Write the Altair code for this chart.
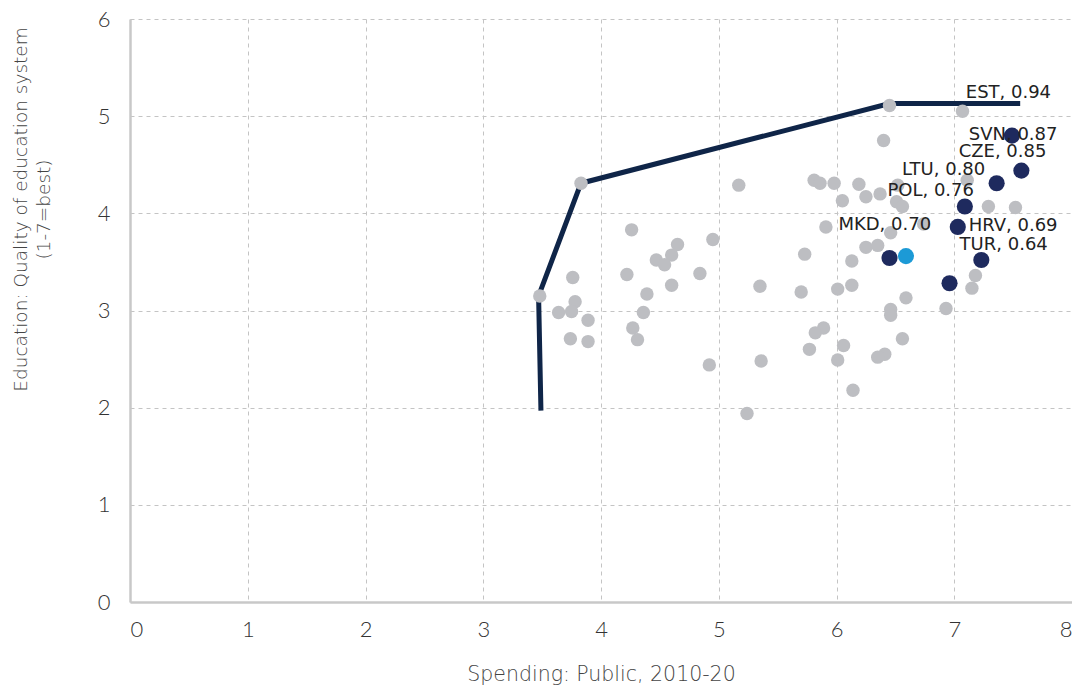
import altair as alt
import pandas as pd

# Gray comparator points (spending, quality)
gray_x = [3.48, 3.83, 6.45, 4.26, 4.65, 4.60, 4.47, 4.54, 4.95, 4.22, 4.84, 3.76, 4.60, 4.39,
          3.78, 3.64, 3.75, 4.36, 3.89, 4.27, 3.74, 3.89, 4.31, 4.92, 5.17, 5.81, 5.86, 5.98,
          6.19, 6.05, 6.25, 6.37, 6.52, 6.51, 6.56, 5.91, 6.46, 6.25, 6.35, 5.73, 6.13, 5.35,
          5.70, 6.01, 6.13, 6.59, 6.46, 6.46, 5.89, 5.82, 6.06, 5.77, 6.56, 6.41, 6.35, 6.01,
          5.36, 6.14, 5.24, 7.07, 6.40, 7.11, 7.29, 7.52, 6.74, 7.18, 7.15, 6.93]
gray_y = [3.15, 4.31, 5.11, 3.83, 3.68, 3.57, 3.52, 3.47, 3.73, 3.37, 3.38, 3.34, 3.26, 3.17,
          3.09, 2.98, 2.99, 2.98, 2.90, 2.82, 2.71, 2.68, 2.70, 2.44, 4.29, 4.34, 4.31, 4.31,
          4.30, 4.13, 4.17, 4.20, 4.29, 4.12, 4.07, 3.86, 3.80, 3.65, 3.67, 3.58, 3.51, 3.25,
          3.19, 3.22, 3.26, 3.13, 3.01, 2.95, 2.82, 2.77, 2.64, 2.60, 2.71, 2.55, 2.52, 2.49,
          2.48, 2.18, 1.94, 5.05, 4.75, 4.34, 4.07, 4.06, 3.89, 3.36, 3.23, 3.02]

# Highlighted peer countries (dark)
peer_x = [7.49, 7.57, 7.36, 7.09, 7.03, 7.23, 6.45, 6.96]
peer_y = [4.80, 4.44, 4.31, 4.07, 3.86, 3.52, 3.54, 3.28]

# Focus country (light blue)
focus_x = [6.59]
focus_y = [3.56]

# Efficiency frontier
front_x = [3.49, 3.47, 3.83, 6.45, 7.56]
front_y = [1.97, 3.15, 4.31, 5.13, 5.13]

# Labels (text, anchor in data units)
lab_text = ["EST, 0.94", "SVN, 0.87", "CZE, 0.85", "LTU, 0.80", "POL, 0.76",
            "MKD, 0.70", "HRV, 0.69", "TUR, 0.64"]
lab_x = [7.46, 7.50, 7.41, 6.91, 6.80, 6.41, 7.50, 7.42]
lab_y = [5.24, 4.81, 4.63, 4.45, 4.23, 3.88, 3.87, 3.67]

gray_df = pd.DataFrame({"x": gray_x, "y": gray_y})
peer_df = pd.DataFrame({"x": peer_x, "y": peer_y})
focus_df = pd.DataFrame({"x": focus_x, "y": focus_y})
front_df = pd.DataFrame({"x": front_x, "y": front_y, "o": list(range(len(front_x)))})
lab_df = pd.DataFrame({"x": lab_x, "y": lab_y, "t": lab_text})

xs = alt.Scale(domain=[0, 8], nice=False, zero=True)
ys = alt.Scale(domain=[0, 6], nice=False, zero=True)

xenc = alt.X("x:Q", scale=xs, axis=alt.Axis(
    title="Spending: Public, 2010-20", values=list(range(0, 9)), format="d",
    titlePadding=24))
yenc = alt.Y("y:Q", scale=ys, axis=alt.Axis(
    title=["Education: Quality of education system", "(1-7=best)"],
    values=list(range(0, 7)), format="d", titleLineHeight=23,
    titleAngle=-90, titleX=-119, titleY=190, titleAlign="center", titleBaseline="top"))

line = alt.Chart(front_df).mark_line(color="#0f2548", strokeWidth=5, strokeCap="butt",
                                     strokeJoin="miter").encode(x=xenc, y=yenc, order="o:Q")
gray = alt.Chart(gray_df).mark_circle(color="#bdbec2", opacity=1, size=180).encode(
    x="x:Q", y="y:Q")
peers = alt.Chart(peer_df).mark_circle(color="#1e2a5e", opacity=1, size=260).encode(
    x="x:Q", y="y:Q")
focus = alt.Chart(focus_df).mark_circle(color="#1c9ad6", opacity=1, size=260).encode(
    x="x:Q", y="y:Q")
labels = alt.Chart(lab_df).mark_text(font="DejaVu Sans", fontSize=18,
                                     color="#222222", align="center", baseline="middle").encode(
    x="x:Q", y="y:Q", text="t:N")

chart = alt.layer(line, gray, peers, focus, labels).properties(
    width=942, height=583,
    autosize=alt.AutoSizeParams(type="none"),
    padding={"left": 122, "top": 11, "right": 0, "bottom": 84},
).configure_view(stroke=None).configure_axis(
    domainColor="#c8c8c8", domainWidth=2.5, ticks=False,
    gridColor="#c4c4c4", gridDash=[4, 4], gridWidth=1,
    labelFont="Lato", labelFontWeight=300, labelFontSize=22, labelColor="#333333",
    titleFont="DejaVu Sans", titleFontWeight=200, titleColor="#444444",
).configure_axisX(labelPadding=17, titleFontSize=20.5).configure_axisY(
    labelPadding=20, titleFontSize=18.5)

chart.save("out.html", embed_options={"renderer": "svg", "actions": False})
